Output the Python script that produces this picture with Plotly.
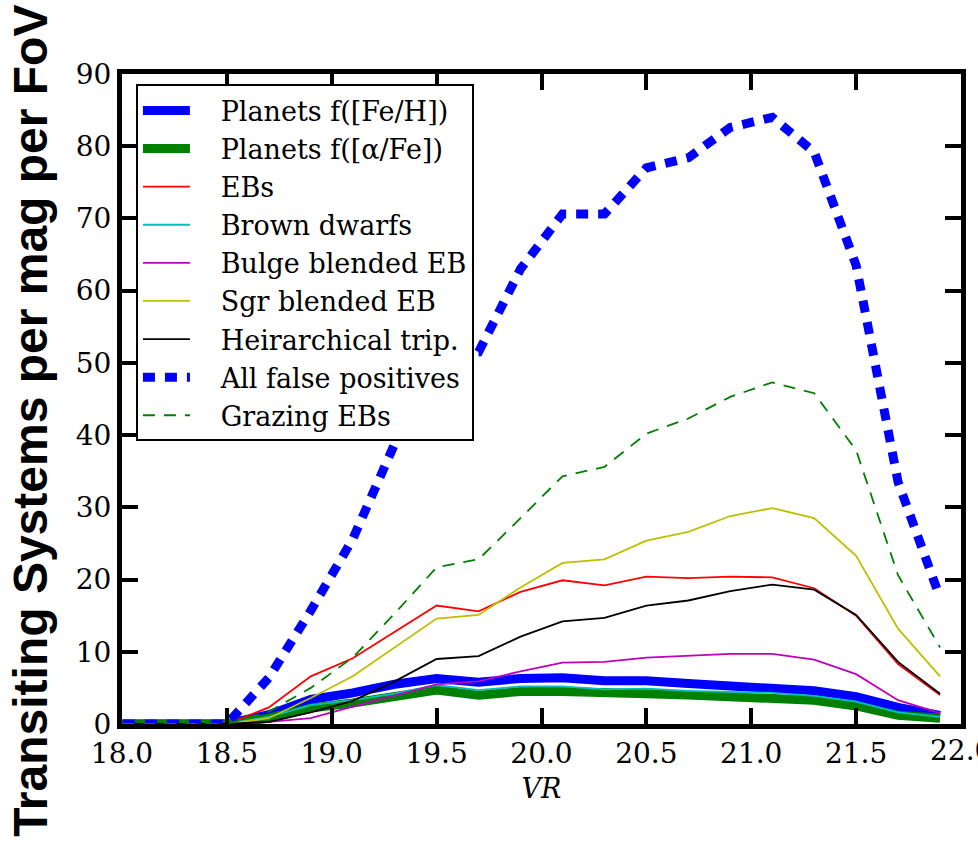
import plotly.graph_objects as go

# Magnitude bin centres (VR)
vr = [17.9, 18.1, 18.3, 18.5, 18.7, 18.9, 19.1, 19.3, 19.5, 19.7, 19.9,
      20.1, 20.3, 20.5, 20.7, 20.9, 21.1, 21.3, 21.5, 21.7, 21.9]

# Transiting systems per mag per FoV for each population
planets_feh = [0, 0, 0, 0, 1.3, 3.4, 4.3, 5.5, 6.3, 5.8, 6.3,
               6.4, 6.0, 6.0, 5.6, 5.3, 5.1, 4.6, 3.8, 2.3, 1.2]
planets_alpha = [0, 0, 0, 0, 0.8, 2.2, 2.9, 3.7, 4.7, 4.0, 4.5,
                 4.5, 4.2, 4.2, 4.0, 3.8, 3.7, 3.3, 2.5, 1.2, 0.8]
ebs = [0, 0, 0, 0, 2.3, 6.6, 9.1, 12.8, 16.4, 15.6, 18.3,
       19.9, 19.2, 20.4, 20.2, 20.4, 20.3, 18.8, 15.0, 8.3, 4.0]
brown_dwarfs = [0, 0, 0, 0, 1.0, 2.6, 3.3, 4.2, 5.4, 4.7, 5.2,
                5.2, 4.8, 4.9, 4.6, 4.4, 4.3, 3.9, 3.1, 1.6, 1.0]
bulge_blended = [0, 0, 0, 0, 0.3, 0.8, 2.4, 4.0, 5.5, 5.9, 7.3,
                 8.5, 8.6, 9.2, 9.4, 9.7, 9.7, 8.9, 6.9, 3.3, 1.5]
sgr_blended = [0, 0, 0, 0, 0.8, 3.6, 6.6, 10.6, 14.6, 15.1, 18.9,
               22.3, 22.8, 25.4, 26.6, 28.8, 29.9, 28.5, 23.3, 13.2, 6.6]
hierarchical = [0, 0, 0, 0, 0.3, 1.6, 3.2, 5.9, 9.0, 9.4, 12.1,
                14.2, 14.7, 16.4, 17.1, 18.4, 19.3, 18.6, 15.1, 8.6, 4.2]
all_fp = [0, 0, 0, 0, 6.4, 15.7, 25.6, 38.8, 51.0, 51.5, 63.0,
          70.6, 70.6, 77.0, 78.4, 82.6, 84.0, 79.2, 63.5, 33.5, 17.5]
grazing = [0, 0, 0, 0, 1.7, 5.0, 9.2, 15.3, 21.7, 22.8, 28.5,
           34.3, 35.6, 40.2, 42.3, 45.3, 47.3, 45.8, 37.9, 20.6, 10.6]

x_ticks = [18.0, 18.5, 19.0, 19.5, 20.0, 20.5, 21.0, 21.5, 22.0]
y_ticks = [0, 10, 20, 30, 40, 50, 60, 70, 80, 90]

series = [
    ("Planets f([Fe/H])", planets_feh, "#0000ff", 9, "solid"),
    ("Planets f([\u03b1/Fe])", planets_alpha, "#008000", 9, "solid"),
    ("EBs", ebs, "#ff0000", 1.8, "solid"),
    ("Brown dwarfs", brown_dwarfs, "#00bfbf", 1.8, "solid"),
    ("Bulge blended EB", bulge_blended, "#bf00bf", 1.8, "solid"),
    ("Sgr blended EB", sgr_blended, "#bfbf00", 1.8, "solid"),
    ("Heirarchical trip.", hierarchical, "#000000", 1.8, "solid"),
    ("All false positives", all_fp, "#0000ff", 9, "12px,10px"),
    ("Grazing EBs", grazing, "#008000", 1.8, "12px,9px"),
]

# leading gap between legend symbol and its label
pad = "\u00a0\u00a0\u00a0"

fig = go.Figure()
for i, (name, vals, color, width, dash) in enumerate(series):
    fig.add_trace(go.Scatter(
        x=vr, y=vals, mode="lines", name=pad + name, legendgroup=f"g{i}",
        line=dict(color=color, width=width, dash=dash),
    ))

serif = "DejaVu Serif"
tick_font = dict(family=serif, size=28, color="black")
axis_common = dict(
    showgrid=False, zeroline=False, showline=True, linecolor="black",
    linewidth=5, mirror="ticks", ticks="inside", ticklen=16, tickwidth=4,
    tickcolor="black", tickfont=tick_font,
)

# the last x label sits on the right edge of the frame and runs off the page,
# so it is placed as a free label instead of an axis tick label
x_ticktext = [f"{v:.1f}" for v in x_ticks]
edge_label = x_ticktext[-1]
x_ticktext[-1] = ""

fig.update_xaxes(
    range=[18, 22], tickvals=x_ticks, ticktext=x_ticktext,
    title=dict(text="<i>VR</i>", font=dict(family=serif, size=27, color="black"),
               standoff=12),
    **axis_common,
)
fig.update_yaxes(
    range=[0, 90], tickvals=y_ticks,
    ticktext=[str(v) for v in y_ticks],
    **axis_common,
)

fig.add_annotation(
    text=edge_label, xref="x", yref="paper", x=x_ticks[-1], y=0,
    xanchor="center", yanchor="middle", yshift=-26, showarrow=False,
    font=tick_font,
)

fig.add_annotation(
    text="<b>Transiting Systems per mag per FoV</b>",
    xref="paper", yref="paper", x=-0.110, y=0.466,
    xanchor="center", yanchor="middle", textangle=-90, showarrow=False,
    font=dict(family="Liberation Sans", size=48, color="black"),
)

fig.update_layout(
    width=978, height=841,
    margin=dict(l=122, r=14, t=74, b=117),
    plot_bgcolor="white", paper_bgcolor="white",
    legend=dict(
        x=0.0166, y=0.984, xanchor="left", yanchor="top",
        bgcolor="white", bordercolor="black", borderwidth=2,
        font=dict(family=serif, size=27, color="black"),
        tracegroupgap=7.5, itemwidth=47, traceorder="normal",
    ),
)

fig.write_html("out.html")
